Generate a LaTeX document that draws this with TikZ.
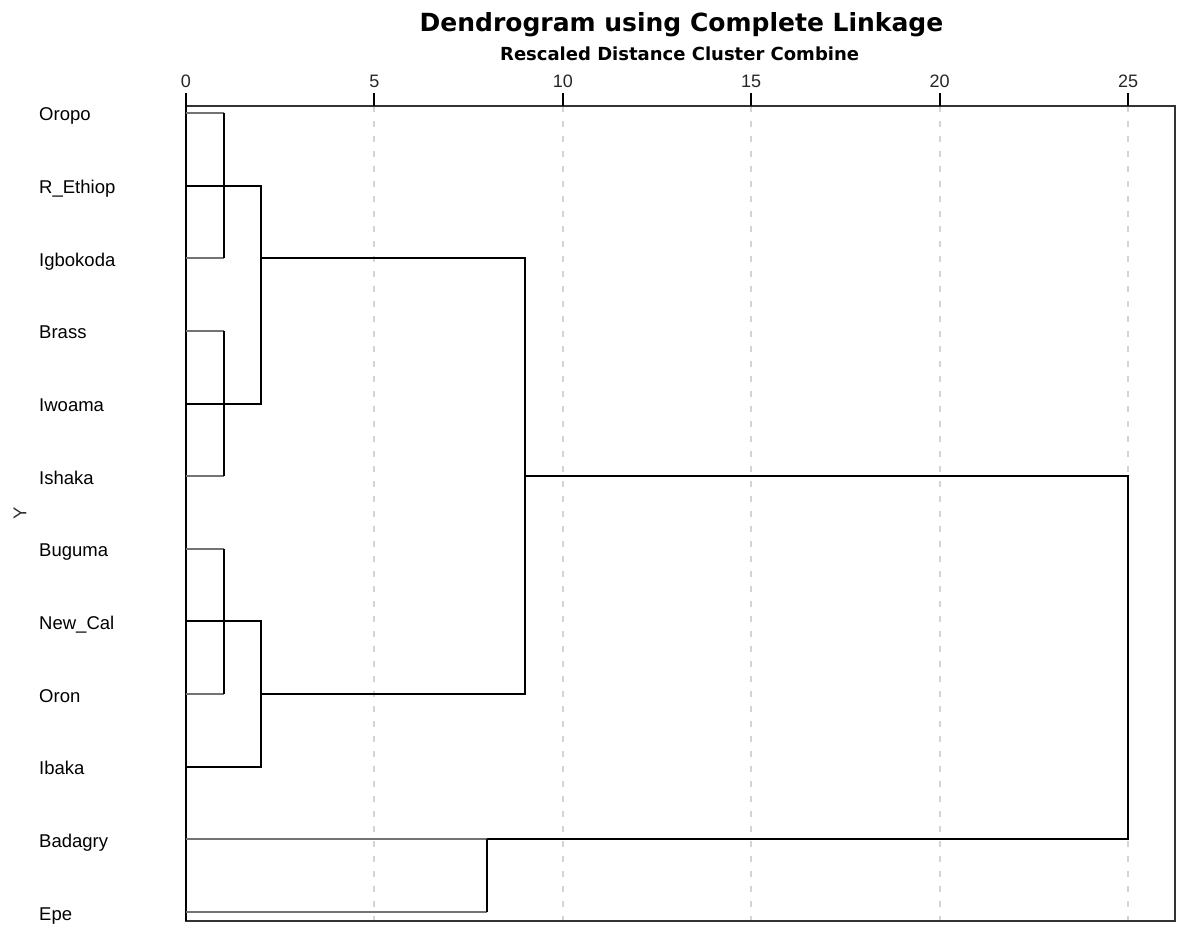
\documentclass[tikz,border=0pt]{standalone}
\usepackage{fontspec}
\setmainfont{Liberation Sans}
\newfontfamily\headfont{DejaVu Sans}
\usepackage{tikz}

\begin{document}
\begin{tikzpicture}[x=37.68pt, y=-72.64pt,
    every node/.style={inner sep=0pt, font=\fontsize{18.5}{22}\selectfont},
    link/.style={line width=2pt, black},
    leaf/.style={line width=2pt, black!55},
    grid/.style={line width=2pt, black!17, dash pattern=on 6pt off 9pt},
    lbl/.style={anchor=base west, yshift=-8pt},
    num/.style={anchor=base, font=\fontsize{18}{22}\selectfont, black!85}]
  \useasboundingbox (-4.936,-1.5556) rectangle (26.30,11.178);

  % titles
  \node[anchor=base, font=\headfont\bfseries\fontsize{25}{30}\selectfont] (title) at (13.15,-1.119) {Dendrogram using Complete Linkage};
  \node[anchor=base, font=\headfont\bfseries\fontsize{18}{22}\selectfont] (subtitle) at (13.1,-0.716) {Rescaled Distance Cluster Combine};

  % dashed grid lines every 5 units
  \draw[grid] (5,-0.0964) -- (5,11.123);
  \draw[grid] (10,-0.0964) -- (10,11.123);
  \draw[grid] (15,-0.0964) -- (15,11.123);
  \draw[grid] (20,-0.0964) -- (20,11.123);
  \draw[grid] (25,-0.0964) -- (25,11.123);

  % frame and distance axis
  \draw[line width=1.8pt, black!80] (0,-0.0964) rectangle (26.25,11.123);
  \draw[line width=2.4pt] (0,-0.275) -- (0,11.123);
  \draw[line width=2.2pt] (5,-0.275) -- (5,-0.0964);
  \draw[line width=2.2pt] (10,-0.275) -- (10,-0.0964);
  \draw[line width=2.2pt] (15,-0.275) -- (15,-0.0964);
  \draw[line width=2.2pt] (20,-0.275) -- (20,-0.0964);
  \draw[line width=2.2pt] (25,-0.275) -- (25,-0.0964);
  \node[num] (t0) at (0,-0.354) {0};
  \node[num] (t5) at (5,-0.354) {5};
  \node[num] (t10) at (10,-0.354) {10};
  \node[num] (t15) at (15,-0.354) {15};
  \node[num] (t20) at (20,-0.354) {20};
  \node[num] (t25) at (25,-0.354) {25};

  % case labels
  \node[lbl] (oropo) at (-3.9,0) {Oropo};
  \node[lbl] (ethiop) at (-3.9,1) {R\_Ethiop};
  \node[lbl] (igbokoda) at (-3.9,2) {Igbokoda};
  \node[lbl] (brass) at (-3.9,3) {Brass};
  \node[lbl] (iwoama) at (-3.9,4) {Iwoama};
  \node[lbl] (ishaka) at (-3.9,5) {Ishaka};
  \node[lbl] (buguma) at (-3.9,6) {Buguma};
  \node[lbl] (newcal) at (-3.9,7) {New\_Cal};
  \node[lbl] (oron) at (-3.9,8) {Oron};
  \node[lbl] (ibaka) at (-3.9,9) {Ibaka};
  \node[lbl] (badagry) at (-3.9,10) {Badagry};
  \node[lbl] (epe) at (-3.9,11) {Epe};
  \node[rotate=90, black!80] (ylabel) at (-4.405,5.507) {Y};

  % single cases joining their first cluster
  \draw[leaf] (0,0) -- (1,0);
  \draw[leaf] (0,2) -- (1,2);
  \draw[leaf] (0,3) -- (1,3);
  \draw[leaf] (0,5) -- (1,5);
  \draw[leaf] (0,6) -- (1,6);
  \draw[leaf] (0,8) -- (1,8);
  \draw[leaf] (0,10) -- (8,10);
  \draw[leaf] (0,11) -- (8,11);

  % merges at distance 1 and 2
  \draw[link] (1,0) -- (1,2);
  \draw[link] (1,3) -- (1,5);
  \draw[link] (1,6) -- (1,8);
  \draw[link] (0,1) -- (2,1) -- (2,4) -- (0,4);
  \draw[link] (0,7) -- (2,7) -- (2,9) -- (0,9);

  % upper clusters join at 9, the last two cases at 8
  \draw[link] (2,2) -- (9,2) -- (9,8) -- (2,8);
  \draw[link] (8,11) -- (8,10);

  % final merge at 25
  \draw[link] (9,5) -- (25,5) -- (25,10) -- (8,10);
\end{tikzpicture}
\end{document}
